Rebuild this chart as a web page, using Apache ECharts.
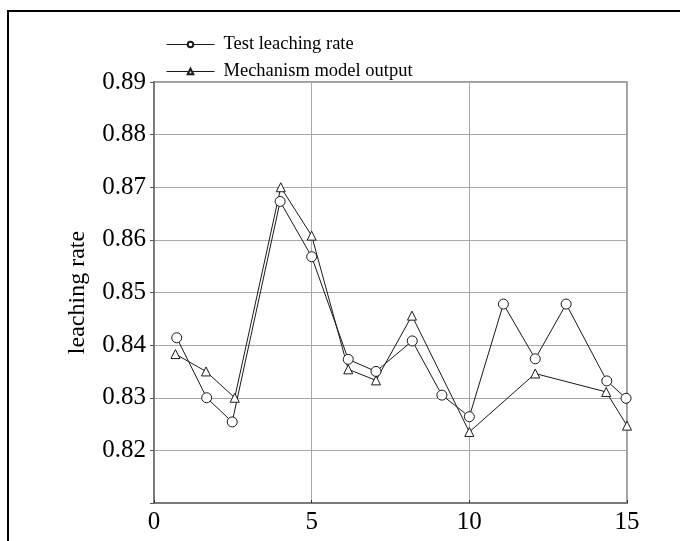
<!DOCTYPE html>
<html><head><meta charset="utf-8">
<script src="https://cdn.jsdelivr.net/npm/echarts@6/dist/echarts.min.js"></script>
<style>html,body{margin:0;padding:0;background:#fff}#c{width:680px;height:541px}</style>
</head><body><div id="c"></div>
<script>
const seriesNames = ['Test leaching rate', 'Mechanism model output'];
const testX = [0.72, 1.67, 2.48, 4.00, 5.00, 6.16, 7.04, 8.19, 9.13, 10.0, 11.08, 12.09, 13.07, 14.36, 14.97];
const testY = [0.8414, 0.8300, 0.8254, 0.8673, 0.8568, 0.8373, 0.8350, 0.8408, 0.8305, 0.8264, 0.8478, 0.8374, 0.8478, 0.8332, 0.8299];
const modelX = [0.68, 1.65, 2.56, 4.02, 5.00, 6.16, 7.04, 8.18, 10.0, 12.09, 14.34, 15.0];
const modelY = [0.8383, 0.8350, 0.8300, 0.8700, 0.8608, 0.8354, 0.8333, 0.8456, 0.8235, 0.8346, 0.8311, 0.8247];
const yTicks = [0.82, 0.83, 0.84, 0.85, 0.86, 0.87, 0.88, 0.89];
const xTicks = [0, 5, 10, 15];
const yName = 'leaching rate';

const font = 'Liberation Serif';
const chart = echarts.init(document.getElementById('c'), null, {renderer: 'canvas'});
const lineColor = '#1a1a1a';
chart.setOption({
  animation: false,
  backgroundColor: '#fff',
  graphic: [{
    type: 'rect', shape: {x: 8, y: 11, width: 900, height: 900},
    style: {fill: 'none', stroke: '#000', lineWidth: 2}, silent: true, z: 100
  }],
  legend: {
    orient: 'vertical', left: 161, top: 30, itemWidth: 48, itemHeight: 7, itemGap: 8,
    lineStyle: {width: 1},
    textStyle: {fontFamily: font, fontSize: 18.5, color: '#000', padding: [0, 0, 0, 4]},
    data: seriesNames
  },
  grid: {left: 154, right: 53, top: 82, bottom: 38, show: true, borderColor: '#808080', borderWidth: 1.5},
  xAxis: {
    type: 'value', min: 0, max: 15, interval: 5,
    axisLine: {show: true, lineStyle: {color: '#7a7a7a', width: 2}},
    axisTick: {show: true, inside: true, length: 3, lineStyle: {color: '#333'}},
    splitLine: {show: true, lineStyle: {color: '#a8a8a8', width: 1}},
    axisLabel: {fontFamily: font, fontSize: 25, color: '#000', margin: 7,
      formatter: v => xTicks.includes(v) ? String(v) : ''}
  },
  yAxis: {
    type: 'value', min: 0.81, max: 0.89, interval: 0.01,
    name: yName, nameLocation: 'middle', nameGap: 64,
    nameTextStyle: {fontFamily: font, fontSize: 24, color: '#000'},
    axisLine: {show: true, lineStyle: {color: '#7a7a7a', width: 2}},
    axisTick: {show: true, inside: false, length: 4, lineStyle: {color: '#555'}},
    splitLine: {show: true, lineStyle: {color: '#a8a8a8', width: 1}},
    axisLabel: {fontFamily: font, fontSize: 25, color: '#000', margin: 8,
      formatter: v => { const r = Math.round(v * 100) / 100; return yTicks.includes(r) ? r.toFixed(2) : ''; }}
  },
  series: [
    {
      name: seriesNames[0], type: 'line',
      data: testX.map((x, i) => [x, testY[i]]),
      symbol: 'circle', symbolSize: 10, showAllSymbol: true,
      lineStyle: {color: lineColor, width: 1},
      itemStyle: {color: '#fff', borderColor: lineColor, borderWidth: 1}
    },
    {
      name: seriesNames[1], type: 'line',
      data: modelX.map((x, i) => [x, modelY[i]]),
      symbol: 'triangle', symbolSize: 9, showAllSymbol: true,
      lineStyle: {color: lineColor, width: 1},
      itemStyle: {color: '#fff', borderColor: lineColor, borderWidth: 1}
    }
  ]
});
</script></body></html>
